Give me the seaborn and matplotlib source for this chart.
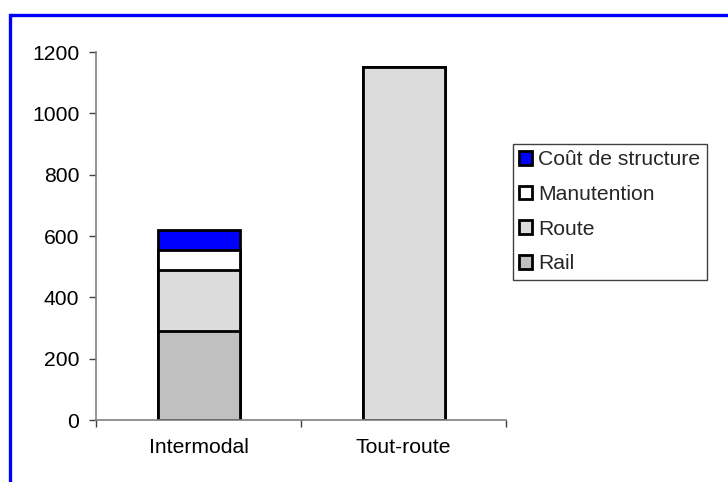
import matplotlib
matplotlib.use("Agg")
import matplotlib.pyplot as plt
from matplotlib.lines import Line2D
from matplotlib.patches import Patch
from matplotlib.ticker import FixedLocator
import numpy as np
import pandas as pd
import seaborn as sns

# Cost components per transport mode
modes = ["Intermodal", "Tout-route"]
rail = [290, 0]
route = [200, 1150]
manutention = [65, 0]
cout_structure = [65, 0]

series_names = ["Rail", "Route", "Manutention", "Coût de structure"]
series_values = [rail, route, manutention, cout_structure]
series_colors = ["#c0c0c0", "#dcdcdc", "#ffffff", "#0000ff"]

y_ticks = [0, 200, 400, 600, 800, 1000, 1200]

sns.set_theme(style="white")
plt.rcParams["font.family"] = ["Liberation Sans", "DejaVu Sans"]

FS = 15.2

fig = plt.figure(figsize=(7.28, 4.82), dpi=100)
ax = fig.add_axes([96 / 728, 62 / 482, 410 / 728, 368 / 482])

# Stacked bars: draw cumulative totals from the top segment down so each
# lower segment covers the one above it.
cumulative = np.cumsum(np.array(series_values), axis=0)
for i in range(len(series_names) - 1, -1, -1):
    df = pd.DataFrame({"mode": modes, "value": cumulative[i]})
    sns.barplot(data=df, x="mode", y="value", ax=ax, color=series_colors[i],
                saturation=1, width=0.4, edgecolor="black", linewidth=2,
                errorbar=None)

ax.set_xlim(-0.5, 1.5)
ax.set_ylim(0, 1200)
ax.set_yticks(y_ticks)
ax.set_yticklabels([str(v) for v in y_ticks])
ax.set_xlabel("")
ax.set_ylabel("")

for side in ("top", "right"):
    ax.spines[side].set_visible(False)
for side in ("left", "bottom"):
    ax.spines[side].set_color("#808080")
    ax.spines[side].set_linewidth(1.2)

ax.tick_params(axis="y", which="major", direction="out", length=5, width=1,
               color="#404040", pad=7, labelsize=FS, left=True)
ax.tick_params(axis="x", which="major", length=0, pad=13, labelsize=FS)
ax.xaxis.set_minor_locator(FixedLocator([-0.5, 0.5, 1.5]))
ax.tick_params(axis="x", which="minor", direction="out", length=5, width=1,
               color="#404040", bottom=True)
for lbl in ax.get_xticklabels() + ax.get_yticklabels():
    lbl.set_color("black")

# Legend, top segment first
handles = [Patch(facecolor=series_colors[i], edgecolor="black", linewidth=2)
           for i in range(len(series_names) - 1, -1, -1)]
labels = [series_names[i] for i in range(len(series_names) - 1, -1, -1)]
leg = fig.legend(handles, labels, loc="upper left",
                 bbox_to_anchor=(513 / 728, 1 - 144 / 482),
                 fontsize=FS, frameon=True, fancybox=False, shadow=False,
                 framealpha=1, edgecolor="#404040", borderpad=0.3,
                 handlelength=0.62, handleheight=0.62, handletextpad=0.28,
                 labelspacing=0.74, borderaxespad=0)
leg.get_frame().set_linewidth(1)

# Blue outline along the top and left of the chart area
fig.add_artist(Line2D([10 / 728, 1.0], [1 - 15 / 482, 1 - 15 / 482],
                      transform=fig.transFigure, color="#0000ff", linewidth=2.4,
                      solid_capstyle="butt"))
fig.add_artist(Line2D([10 / 728, 10 / 728], [0.0, 1 - 15 / 482],
                      transform=fig.transFigure, color="#0000ff", linewidth=2.4,
                      solid_capstyle="projecting"))

fig.savefig("out.png", dpi=100)
